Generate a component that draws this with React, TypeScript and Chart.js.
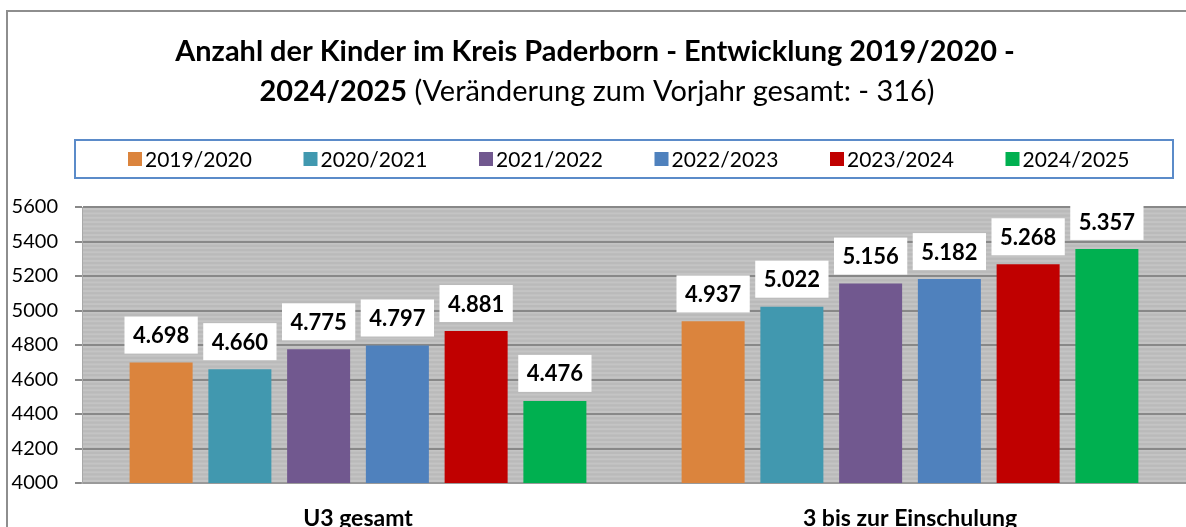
import React, { useEffect, useRef } from "react";
import { Chart, registerables } from "chart.js";

Chart.register(...registerables);

const categories = ["U3 gesamt", "3 bis zur Einschulung"];
const seriesLabels = ["2019/2020", "2020/2021", "2021/2022", "2022/2023", "2023/2024", "2024/2025"];
const seriesColors = ["#DB843D", "#4198AF", "#71588F", "#4F81BD", "#C00000", "#00B050"];
const values2019 = [4698, 4937];
const values2020 = [4660, 5022];
const values2021 = [4775, 5156];
const values2022 = [4797, 5182];
const values2023 = [4881, 5268];
const values2024 = [4476, 5357];
const seriesValues = [values2019, values2020, values2021, values2022, values2023, values2024];
const yMin = 4000;
const yMax = 5600;
const yStep = 200;
const titleLine1 = "Anzahl der Kinder im Kreis Paderborn - Entwicklung 2019/2020 -";
const titleLine2Bold = "2024/2025";
const titleLine2Normal = " (Veränderung zum Vorjahr gesamt: - 316)";

const FONT = "Lato, 'Open Sans', 'Noto Sans', sans-serif";
const W = 1186;
const H = 545;

const fmt = (v: number) => {
  const s = String(v);
  return s.length > 3 ? s.slice(0, s.length - 3) + "." + s.slice(s.length - 3) : s;
};

const decorPlugin = {
  id: "decor",
  beforeDraw(chart: any) {
    const ctx = chart.ctx;
    const ca = chart.chartArea;
    const y = chart.scales.y;
    ctx.save();
    // frame
    ctx.strokeStyle = "#8E8E8E";
    ctx.lineWidth = 2;
    ctx.strokeRect(7, 11, 3000, 3000);
    // plot background with stripes
    ctx.fillStyle = "#BABABA";
    ctx.fillRect(ca.left, ca.top, ca.right - ca.left, ca.bottom - ca.top);
    ctx.fillStyle = "#C4C4C4";
    for (let v = yMin; v < yMax; v += 25) {
      const py = y.getPixelForValue(v + 12.5);
      ctx.fillRect(ca.left, py - 1, ca.right - ca.left, 2);
    }
    // title
    ctx.fillStyle = "#000";
    ctx.textBaseline = "middle";
    ctx.textAlign = "left";
    let size = 26;
    ctx.font = `bold ${size}px ${FONT}`;
    const w1 = ctx.measureText(titleLine1).width;
    size = (size * 840) / w1;
    ctx.font = `bold ${size}px ${FONT}`;
    const wl1 = ctx.measureText(titleLine1).width;
    ctx.fillText(titleLine1, 595 - wl1 / 2, 52);
    ctx.font = `bold ${size}px ${FONT}`;
    const wb = ctx.measureText(titleLine2Bold).width;
    ctx.font = `${size}px ${FONT}`;
    const wn = ctx.measureText(titleLine2Normal).width;
    const x2 = 597 - (wb + wn) / 2;
    ctx.font = `bold ${size}px ${FONT}`;
    ctx.fillText(titleLine2Bold, x2, 92);
    ctx.font = `${size}px ${FONT}`;
    ctx.fillText(titleLine2Normal, x2 + wb, 92);
    // legend
    ctx.strokeStyle = "#5B8BC9";
    ctx.lineWidth = 2;
    ctx.strokeRect(75, 140, 1098, 38);
    ctx.font = `21px ${FONT}`;
    chart.data.datasets.forEach((ds: any, i: number) => {
      const lx = 128 + i * 175.5;
      ctx.fillStyle = ds.backgroundColor;
      ctx.fillRect(lx, 152, 14, 14);
      ctx.fillStyle = "#000";
      ctx.fillText(ds.label, lx + 17, 160);
    });
    ctx.restore();
  },
  afterDatasetsDraw(chart: any) {
    const ctx = chart.ctx;
    ctx.save();
    ctx.font = `bold 22px ${FONT}`;
    ctx.textAlign = "center";
    ctx.textBaseline = "middle";
    chart.data.datasets.forEach((ds: any, i: number) => {
      const meta = chart.getDatasetMeta(i);
      meta.data.forEach((bar: any, j: number) => {
        const text = fmt(ds.data[j]);
        const tw = ctx.measureText(text).width;
        const bw = tw + 17;
        const bh = 37;
        const bottom = bar.y - 9;
        ctx.fillStyle = "#FFFFFF";
        ctx.fillRect(bar.x - bw / 2, bottom - bh, bw, bh);
        ctx.fillStyle = "#000";
        ctx.fillText(text, bar.x, bottom - bh / 2 + 1);
      });
    });
    ctx.restore();
  },
};

export default function App() {
  const ref = useRef<HTMLCanvasElement>(null);
  useEffect(() => {
    if (!ref.current) return;
    const chart = new Chart(ref.current, {
      type: "bar",
      data: {
        labels: categories,
        datasets: seriesLabels.map((label, i) => ({
          label,
          data: seriesValues[i],
          backgroundColor: seriesColors[i],
          borderWidth: 0,
          categoryPercentage: 0.856,
          barPercentage: 0.8,
        })),
      },
      options: {
        responsive: false,
        animation: false,
        layout: { padding: { top: 207, left: 0, right: 0, bottom: 0 } },
        plugins: { legend: { display: false }, title: { display: false }, tooltip: { enabled: false } },
        scales: {
          x: {
            grid: { display: false, drawTicks: false },
            border: { display: true, color: "#9A9A9A", width: 2 },
            ticks: { color: "#000", padding: 22, font: { family: FONT, size: 23, weight: "bold" } },
            afterFit(scale: any) {
              scale.height = H - 483;
              scale.paddingLeft = 0;
              scale.paddingRight = 0;
            },
          },
          y: {
            min: yMin,
            max: yMax,
            ticks: {
              stepSize: yStep,
              color: "#000",
              padding: 17,
              font: { family: FONT, size: 20 },
              callback: (v: any) => String(v),
            },
            grid: { color: "#888888", lineWidth: 2, tickLength: 7, drawTicks: true },
            border: { display: true, color: "#A8A8A8", width: 1 },
            afterFit(scale: any) {
              scale.width = 82;
              scale.paddingTop = 0;
              scale.paddingBottom = 0;
            },
          },
        },
      },
      plugins: [decorPlugin],
    } as any);
    return () => chart.destroy();
  }, []);
  return (
    <div style={{ position: "fixed", left: 0, top: 0, width: 1186, height: 527, overflow: "hidden", background: "#fff" }}>
      <canvas ref={ref} width={W} height={H} style={{ display: "block" }} />
    </div>
  );
}
